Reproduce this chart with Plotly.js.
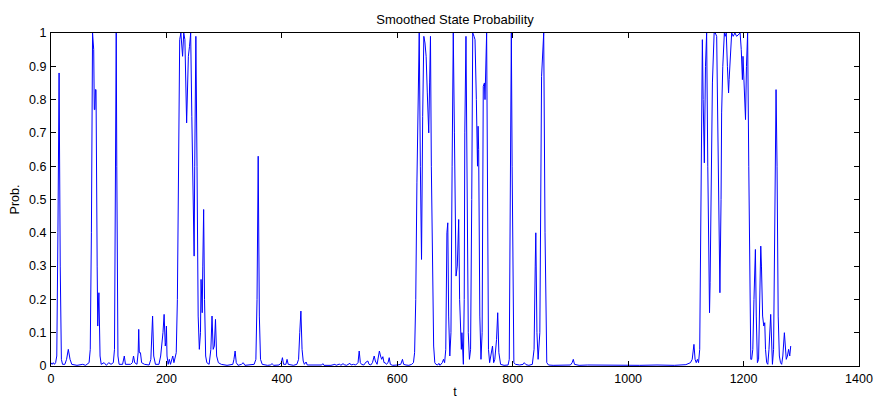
<!DOCTYPE html>
<html>
<head>
<meta charset="utf-8">
<script src="https://cdn.plot.ly/plotly-3.0.1.min.js"></script>
<style>html,body{margin:0;padding:0;background:#fff;}#chart{width:874px;height:399px;}</style>
</head>
<body>
<div id="chart"></div>
<script>
const chartTitle = "Smoothed State Probability";
const xLabel = "t";
const yLabel = "Prob.";
const xTicks = [0, 200, 400, 600, 800, 1000, 1200, 1400];
const yTicks = [0, 0.1, 0.2, 0.3, 0.4, 0.5, 0.6, 0.7, 0.8, 0.9, 1];
const yTickText = ["0", "0.1", "0.2", "0.3", "0.4", "0.5", "0.6", "0.7", "0.8", "0.9", "1"];

// time index and smoothed probability
const t = [
0,2,4,6,8,10,12,14,16,18,20,24,27,30,33,36,45,55,60,66,68,70,72,74,75,76,77,78,80,81,83,85,87,92,96,100,104,108,110,112,113,114,116,118,124,127,129,138,141,143,145,149,151,152,153,155,157,162,170,173,175,176,178,181,187,190,194,196,198,199,200,201,203,205,207,209,211,213,215,217,219,221,223,225,227,228,230,232,235,237,238,240,242,244,246,248,249,251,253,255,257,259,260,261,262,263,264.5,266,268,270,274,277,279,281,283,285,287,290,295,305,315,317,319,321,324,330,333,336,345,352,355,357,359,361,363,366,375,380,383,386,395,399,401,403,407,409,411,420,426,429,431,433,435,437,439,442,444,455,469,471,473,485,492,494,500,502,506,508,512,518,520,524,528,532,534,536,538,542,546,549,551,554,557,560,562,565,567,569,571,573,575,577,579,581,584,586,588,592,600,606,609,611,615,620,625,628,630,632,634,636,638,640,642,644,646,648,650,652,653,654.5,656,657.5,659,661,663,665,667,670,672,674,678,680,682,684,686,687.5,689,691,693,695,697,699,701.8,704,706.4,708,709.3,711,712,713,714.5,716,717,719,721,723,725,727,729,730.7,733,734.7,737,739,740,741,743,745,747,749,751,752,754.8,756,758,760,762,765,767,769,772,774,776,779,785,792,794,796,797.6,799,802,805,812,818,820,823,828,834,837,839,840,842,844,847,850,853.7,856,859,862,870,880,890,900,903,905,907,915,930,960,990,1020,1050,1080,1100,1108,1111,1114,1116,1118,1120,1122,1124,1126,1128.6,1130,1132,1134,1136,1138,1141,1142,1144,1146,1149,1151,1153.4,1156,1159,1161,1162,1164,1166.7,1168,1170,1172,1174,1175,1177,1179.4,1182,1185,1188,1191,1194,1196,1198,1199,1201,1203.4,1205,1207,1209,1211,1212.5,1214,1216,1218,1220.5,1222,1224,1226,1228,1229.8,1231,1233,1235,1236.7,1238,1240,1242,1244,1247,1249,1250,1252,1254,1256.3,1258,1260,1262,1264,1266,1268,1270.7,1272,1274,1276,1278,1280,1281.7
];
const prob = [
0.01,0.005,0.01,0.005,0.01,0.03,0.4,0.88,0.3,0.02,0.005,0.005,0.02,0.05,0.02,0.005,0.002,0.005,0.002,0.01,0.05,0.4,1.0,0.95,0.77,0.77,0.83,0.83,0.3,0.12,0.22,0.03,0.005,0.01,0.002,0.01,0.005,0.01,0.05,0.6,1.0,0.6,0.03,0.005,0.005,0.03,0.005,0.005,0.01,0.03,0.01,0.005,0.04,0.11,0.04,0.04,0.01,0.005,0.003,0.02,0.135,0.15,0.03,0.005,0.005,0.03,0.1,0.155,0.06,0.07,0.12,0.03,0.005,0.02,0.005,0.02,0.03,0.01,0.03,0.04,0.2,0.6,0.98,1.0,0.95,0.93,1.0,0.98,0.73,0.9,0.93,0.96,1.0,0.75,0.45,0.33,0.6,0.99,0.6,0.15,0.05,0.1,0.26,0.2,0.16,0.3,0.47,0.2,0.03,0.01,0.005,0.05,0.15,0.05,0.06,0.14,0.03,0.01,0.005,0.002,0.005,0.02,0.045,0.01,0.002,0.005,0.01,0.002,0.003,0.005,0.02,0.2,0.63,0.15,0.02,0.005,0.002,0.003,0.007,0.002,0.003,0.01,0.025,0.005,0.005,0.02,0.005,0.002,0.005,0.02,0.1,0.165,0.05,0.015,0.005,0.012,0.003,0.002,0.003,0.007,0.002,0.002,0.005,0.002,0.006,0.002,0.007,0.004,0.002,0.008,0.003,0.005,0.003,0.01,0.045,0.01,0.005,0.003,0.012,0.015,0.005,0.003,0.01,0.03,0.015,0.005,0.02,0.045,0.03,0.02,0.028,0.01,0.01,0.005,0.01,0.025,0.005,0.002,0.003,0.005,0.02,0.005,0.003,0.002,0.005,0.01,0.04,0.2,0.55,0.85,1.0,0.6,0.32,0.75,0.99,0.97,0.93,0.82,0.75,0.7,0.85,0.99,0.6,0.28,0.06,0.01,0.005,0.003,0.008,0.002,0.01,0.02,0.01,0.05,0.4,0.43,0.15,0.03,0.1,0.6,1.0,0.7,0.27,0.3,0.44,0.2,0.1,0.05,0.1,0.03,0.005,0.2,0.7,0.99,0.5,0.1,0.02,0.05,0.5,1.0,0.99,0.98,0.8,0.6,0.72,0.65,0.15,0.02,0.1,0.84,0.85,0.8,1.0,0.5,0.05,0.01,0.03,0.06,0.01,0.02,0.08,0.16,0.04,0.005,0.002,0.003,0.02,0.5,1.0,0.6,0.01,0.005,0.003,0.005,0.01,0.004,0.002,0.005,0.05,0.3,0.4,0.1,0.02,0.1,0.87,1.0,0.4,0.01,0.003,0.002,0.003,0.002,0.003,0.01,0.02,0.005,0.002,0.003,0.002,0.003,0.002,0.003,0.002,0.004,0.01,0.02,0.065,0.02,0.01,0.02,0.01,0.05,0.5,0.98,0.8,0.61,0.9,1.0,0.6,0.16,0.25,0.5,0.85,1.0,1.0,0.99,0.6,0.22,0.5,0.76,0.9,1.0,0.99,1.0,0.9,0.82,0.86,0.95,1.0,0.99,1.0,0.99,0.995,1.0,0.95,0.86,0.93,0.85,0.74,0.9,1.0,0.6,0.1,0.02,0.02,0.05,0.2,0.35,0.15,0.01,0.02,0.2,0.36,0.3,0.15,0.12,0.13,0.05,0.01,0.005,0.05,0.155,0.03,0.005,0.05,0.4,0.83,0.6,0.15,0.03,0.01,0.005,0.03,0.1,0.05,0.02,0.03,0.05,0.03,0.06
];

const fontFam = "Liberation Sans, Arial, Helvetica, sans-serif";
const axisCommon = {
  showline: true, linecolor: "#000", linewidth: 1, mirror: "ticks",
  ticks: "inside", ticklen: 5, tickcolor: "#000", tickwidth: 1,
  showgrid: false, zeroline: false,
  tickfont: {family: fontFam, size: 12.5, color: "#000"}
};

Plotly.newPlot("chart", [{
  x: t, y: prob, type: "scatter", mode: "lines",
  line: {color: "#0000ff", width: 1}
}], {
  width: 874, height: 399,
  margin: {l: 51, r: 15, t: 33, b: 33},
  paper_bgcolor: "#fff", plot_bgcolor: "#fff",
  showlegend: false,
  title: {text: chartTitle, font: {family: fontFam, size: 13, color: "#000"}, x: 0.5206, xanchor: "center", y: 0.952, yanchor: "middle"},
  xaxis: Object.assign({}, axisCommon, {
    range: [0, 1400], tickvals: xTicks, ticktext: xTicks.map(String),
    ticklabelstandoff: 1,
    title: {text: xLabel, font: {family: fontFam, size: 12.5, color: "#000"}, standoff: 6}
  }),
  yaxis: Object.assign({}, axisCommon, {
    range: [0, 1], tickvals: yTicks, ticktext: yTickText,
    ticklabelstandoff: 1,
    title: {text: yLabel, font: {family: fontFam, size: 12.5, color: "#000"}, standoff: 6}
  })
}, {displayModeBar: false, staticPlot: true});
</script>
</body>
</html>
